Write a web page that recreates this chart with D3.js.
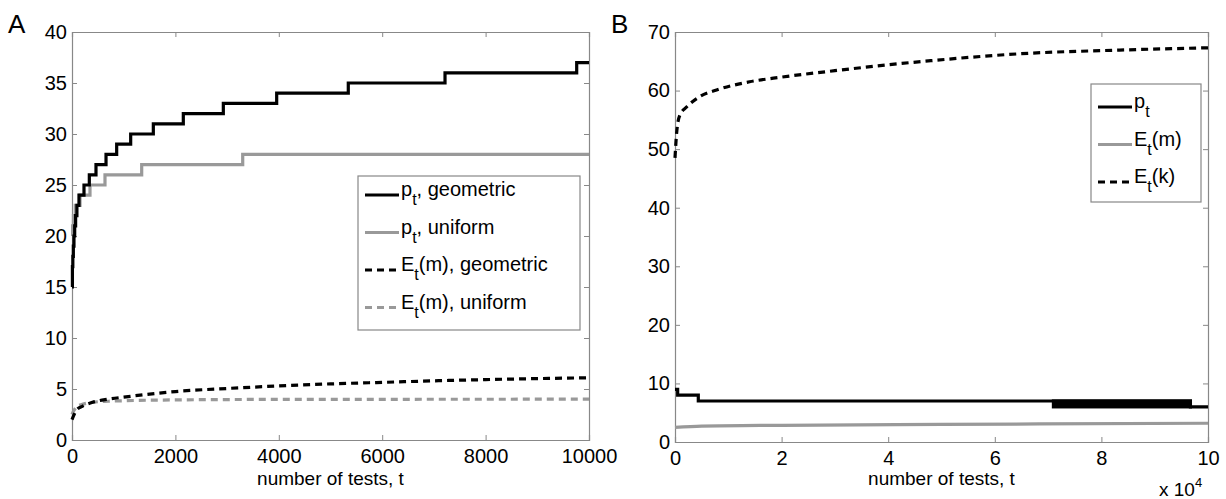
<!DOCTYPE html>
<html>
<head>
<meta charset="utf-8">
<script src="https://cdn.jsdelivr.net/npm/d3@7"></script>
<style>
  body { margin: 0; background: #fff; }
  text { font-family: "Liberation Sans", Arial, Helvetica, sans-serif; fill: #000; }
</style>
</head>
<body>
<script>
// panel A: step values [t, value]
var pGeomA = [[0,15],[8,17],[16,18],[26,19],[38,20],[52,21],[70,22],[95,23],[135,24],[232,25],[335,26],[464,27],[658,28],[864,29],[1135,30],[1573,31],[2153,32],[2927,33],[3959,34],[5344,35],[7215,36],[9762,37],[10000,37]];
var pUnifA = [[0,20],[12,21],[28,22],[64,23],[155,24],[348,25],[638,26],[1348,27],[3302,28],[10000,28]];
var emGeomA = [[0,2],[50,2.6],[100,3],[200,3.3],[400,3.7],[700,4.0],[1000,4.2],[1500,4.5],[2000,4.75],[3000,5.05],[4000,5.3],[5000,5.5],[6000,5.65],[7000,5.8],[8000,5.92],[9000,6.02],[10000,6.1]];
var emUnifA = [[0,2.5],[50,3.0],[100,3.3],[200,3.5],[400,3.7],[700,3.8],[1000,3.85],[2000,3.93],[4000,3.98],[10000,4.0]];

// panel B
var pB = [[0,9],[500,8],[4370,7],[96700,6],[100000,6]];
var pBandB = [[71000,96700,6,7]]; // region where p_t flips fast between 6 and 7
var emB = [[0,2.5],[5000,2.7],[20000,2.85],[50000,3.0],[100000,3.2]];
var ekB = [[0,48.5],[300,52.7],[900,55.8],[2200,57.2],[4700,59],[7800,60.1],[14000,61.5],[20000,62.3],[30000,63.4],[40000,64.4],[48000,65.1],[65000,66.3],[83000,66.9],[100000,67.3]];

var ticksAx = [0,2000,4000,6000,8000,10000];
var ticksAy = [0,5,10,15,20,25,30,35,40];
var ticksBx = [0,20000,40000,60000,80000,100000];
var ticksBy = [0,10,20,30,40,50,60,70];

var legendA = [
  {main:"p", sub:"t", rest:", geometric", color:"#000", dash:null},
  {main:"p", sub:"t", rest:", uniform", color:"#999", dash:null},
  {main:"E", sub:"t", rest:"(m), geometric", color:"#000", dash:"7,5"},
  {main:"E", sub:"t", rest:"(m), uniform", color:"#999", dash:"7,5"}
];
var legendB = [
  {main:"p", sub:"t", rest:"", color:"#000", dash:null},
  {main:"E", sub:"t", rest:"(m)", color:"#999", dash:null},
  {main:"E", sub:"t", rest:"(k)", color:"#000", dash:"7,5"}
];

var svg = d3.select("body").append("svg")
    .attr("width", 1226)
    .attr("height", 499);

function makePanel(box, xDom, yDom, xt, yt, xfmt) {
    var x = d3.scaleLinear().domain(xDom).range([box.x0, box.x1]);
    var y = d3.scaleLinear().domain(yDom).range([box.y1, box.y0]);
    var g = svg.append("g");
    var axisColor = "#888";

    // inner ticks on all four sides (matlab style)
    g.append("g").attr("transform", "translate(0," + box.y1 + ")")
        .call(d3.axisBottom(x).tickValues(xt).tickSize(-5).tickPadding(9).tickFormat(xfmt));
    g.append("g").attr("transform", "translate(0," + box.y0 + ")")
        .call(d3.axisTop(x).tickValues(xt).tickSize(-5).tickFormat(""));
    g.append("g").attr("transform", "translate(" + box.x0 + ",0)")
        .call(d3.axisLeft(y).tickValues(yt).tickSize(-5).tickPadding(5));
    g.append("g").attr("transform", "translate(" + box.x1 + ",0)")
        .call(d3.axisRight(y).tickValues(yt).tickSize(-5).tickFormat(""));
    g.selectAll(".domain").attr("stroke", axisColor).attr("stroke-width", 1.2);
    g.selectAll(".tick line").attr("stroke", axisColor);
    g.selectAll(".tick text").style("font-size", "20px")
        .style("font-family", "'Liberation Sans', Arial, sans-serif").attr("fill", "#000");
    return {x: x, y: y, g: g};
}

function drawLine(p, data, color, dash, step) {
    var line = d3.line()
        .x(function(d){ return p.x(d[0]); })
        .y(function(d){ return p.y(d[1]); })
        .curve(step ? d3.curveStepAfter : d3.curveMonotoneX);
    p.g.append("path")
        .datum(data)
        .attr("d", line)
        .attr("fill", "none")
        .attr("stroke", color)
        .attr("stroke-width", 3.2)
        .attr("stroke-dasharray", dash);
}

function drawLegend(items, bx, by, bw, bh, rowY0, rowGap) {
    var lg = svg.append("g");
    lg.append("rect").attr("x", bx).attr("y", by).attr("width", bw).attr("height", bh)
        .attr("fill", "#fff").attr("stroke", "#888").attr("stroke-width", 1.2);
    items.forEach(function(it, i) {
        var yy = rowY0 + i * rowGap;
        lg.append("line").attr("x1", bx + 7).attr("x2", bx + 41)
            .attr("y1", yy).attr("y2", yy)
            .attr("stroke", it.color).attr("stroke-width", 3.2)
            .attr("stroke-dasharray", it.dash);
        var t = lg.append("text").attr("x", bx + 43).attr("y", yy + 1).style("font-size", "20px");
        t.append("tspan").text(it.main);
        t.append("tspan").attr("dy", 9).style("font-size", "16px").text(it.sub);
        t.append("tspan").attr("dy", -9).text(it.rest);
    });
}

// ---- panel A
var A = makePanel({x0:72, x1:589, y0:32, y1:440}, [0,10000], [0,40], ticksAx, ticksAy, d3.format("d"));
drawLine(A, emUnifA, "#999", "7,5", false);
drawLine(A, emGeomA, "#000", "7,5", false);
drawLine(A, pUnifA, "#999", null, true);
drawLine(A, pGeomA, "#000", null, true);
drawLegend(legendA, 358, 176, 222, 154, 195, 37.5);

// ---- panel B
var B = makePanel({x0:675, x1:1208, y0:32, y1:442}, [0,100000], [0,70], ticksBx, ticksBy,
    function(d){ return d / 10000; });
drawLine(B, emB, "#999", null, false);
drawLine(B, ekB, "#000", "7,5", false);
drawLine(B, pB, "#000", null, true);
B.g.selectAll(".band").data(pBandB).enter().append("rect")
    .attr("class", "band")
    .attr("x", function(d){ return B.x(d[0]); })
    .attr("width", function(d){ return B.x(d[1]) - B.x(d[0]); })
    .attr("y", function(d){ return B.y(d[3]); })
    .attr("height", function(d){ return B.y(d[2]) - B.y(d[3]); })
    .attr("fill", "#000").attr("stroke", "#000").attr("stroke-width", 3.2);
drawLegend(legendB, 1091, 84, 110, 118, 107, 37.5);

// labels
svg.append("text").attr("x", 8).attr("y", 33).style("font-size", "26px").text("A");
svg.append("text").attr("x", 611).attr("y", 33).style("font-size", "26px").text("B");
svg.append("text").attr("x", (72 + 589) / 2).attr("y", 485).attr("text-anchor", "middle")
    .style("font-size", "19px").text("number of tests, t");
svg.append("text").attr("x", (675 + 1208) / 2).attr("y", 485).attr("text-anchor", "middle")
    .style("font-size", "19px").text("number of tests, t");
var ex = svg.append("text").attr("x", 1159).attr("y", 496).style("font-size", "19px");
ex.append("tspan").text("x 10");
ex.append("tspan").attr("dy", -9).style("font-size", "13px").text("4");
</script>
</body>
</html>
